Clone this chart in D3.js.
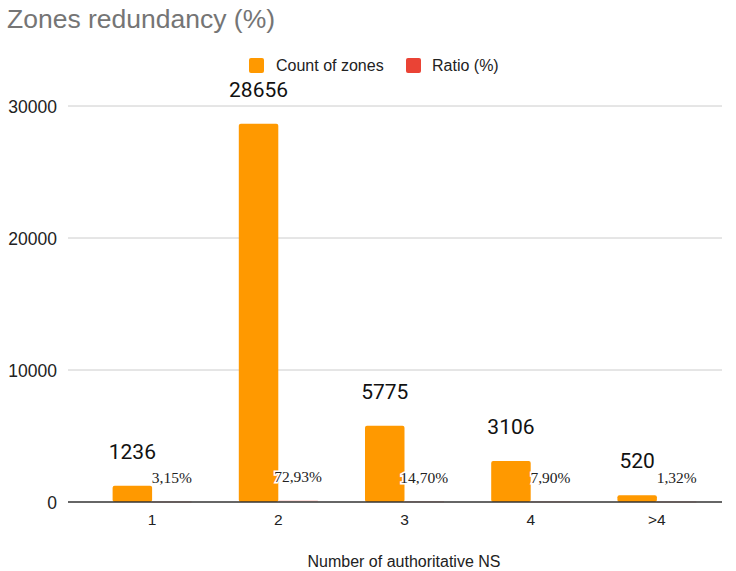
<!DOCTYPE html>
<html><head><meta charset="utf-8">
<script src="https://cdn.jsdelivr.net/npm/d3@7"></script>
<style>body{margin:0;background:#fff}</style>
</head><body>
<svg id="c" width="736" height="571"></svg>
<script>
const categories = ["1","2","3","4",">4"];
const countOfZones = [1236, 28656, 5775, 3106, 520];
const ratioPct = [3.15, 72.93, 14.70, 7.90, 1.32];
const ratioLabels = ["3,15%","72,93%","14,70%","7,90%","1,32%"];
const yTicks = [0, 10000, 20000, 30000];
const seriesNames = ["Count of zones", "Ratio (%)"];
const colors = ["#ff9900", "#ea4335"];

const svg = d3.select("#c");
const plotL = 68, plotR = 722, y0 = 502, yTop = 106;

const x = d3.scaleBand().domain(categories).range([89, 720]).paddingInner(0).paddingOuter(0);
const y = d3.scaleLinear().domain([0, 30000]).range([y0, yTop]);
const bw = 39.5;
const sans = "Liberation Sans, Arial, sans-serif";

// title
svg.append("text").attr("x", 7).attr("y", 28).attr("font-family", sans)
  .attr("font-size", 26.5).attr("fill", "#757575").text("Zones redundancy (%)");

// legend
const leg = [{x:249, tx:276},{x:406, tx:432}];
seriesNames.forEach((s,i)=>{
  svg.append("rect").attr("x", leg[i].x).attr("y", 58).attr("width", 15).attr("height", 15).attr("rx", 2).attr("fill", colors[i]);
  svg.append("text").attr("x", leg[i].tx).attr("y", 71).attr("font-family", sans)
    .attr("font-size", 16).attr("fill", "#222").text(s);
});

// gridlines
svg.append("g").selectAll("line").data(yTicks.filter(d=>d>0)).join("line")
  .attr("x1", plotL).attr("x2", plotR).attr("y1", d=>y(d)).attr("y2", d=>y(d))
  .attr("stroke", "#cccccc").attr("stroke-width", 1);

// y axis labels
const yAxis = d3.axisLeft(y).tickValues(yTicks).tickSize(0).tickPadding(0).tickFormat(d3.format("d"));
const ga = svg.append("g").attr("transform", `translate(57,0)`).call(yAxis);
ga.select(".domain").remove();
ga.selectAll("text").attr("font-family", sans).attr("font-size", 17.5).attr("fill", "#222").attr("dy", "0.35em");

// bars
const g = svg.append("g");
categories.forEach((c,i)=>{
  const cx = x(c) + x.bandwidth()/2;
  g.append("rect").attr("x", cx - bw).attr("y", y(countOfZones[i])).attr("width", bw)
    .attr("height", y0 - y(countOfZones[i])).attr("rx", 2).attr("fill", colors[0]);
  g.append("rect").attr("x", cx).attr("y", y(ratioPct[i]) - 0.5).attr("width", bw)
    .attr("height", Math.max(1, y0 - y(ratioPct[i]))).attr("fill", colors[1]).attr("opacity", 0.35);
  g.append("text").attr("x", cx - bw/2).attr("y", y(countOfZones[i]) - 27).attr("text-anchor", "middle")
    .attr("font-family", "Roboto, sans-serif").attr("font-size", 21).attr("fill", "#111").text(countOfZones[i]);
  g.append("text").attr("x", cx + bw/2).attr("y", y(ratioPct[i]) - 19).attr("text-anchor", "middle")
    .attr("font-family", "Liberation Serif, Times New Roman, serif").attr("font-size", 15.5).attr("fill", "#222")
    .attr("stroke", "#fff").attr("stroke-width", 3).attr("paint-order", "stroke").text(ratioLabels[i]);
});

// baseline
svg.append("line").attr("x1", plotL).attr("x2", plotR).attr("y1", y0).attr("y2", y0).attr("stroke", "#333").attr("stroke-width", 1.5);

// x axis labels
const xAxis = d3.axisBottom(x).tickSize(0).tickPadding(0);
const gx = svg.append("g").attr("transform", `translate(0,${y0})`).call(xAxis);
gx.select(".domain").remove();
gx.selectAll("text").attr("font-family", sans).attr("font-size", 15.5).attr("fill", "#222")
  .attr("dy", 0).attr("y", 23);
gx.selectAll(".tick").attr("transform", d => `translate(${x(d) + x.bandwidth()/2},0)`);

// x title
svg.append("text").attr("x", 404).attr("y", 567).attr("text-anchor", "middle").attr("font-family", sans)
  .attr("font-size", 16).attr("fill", "#222").text("Number of authoritative NS");
</script>
</body></html>
